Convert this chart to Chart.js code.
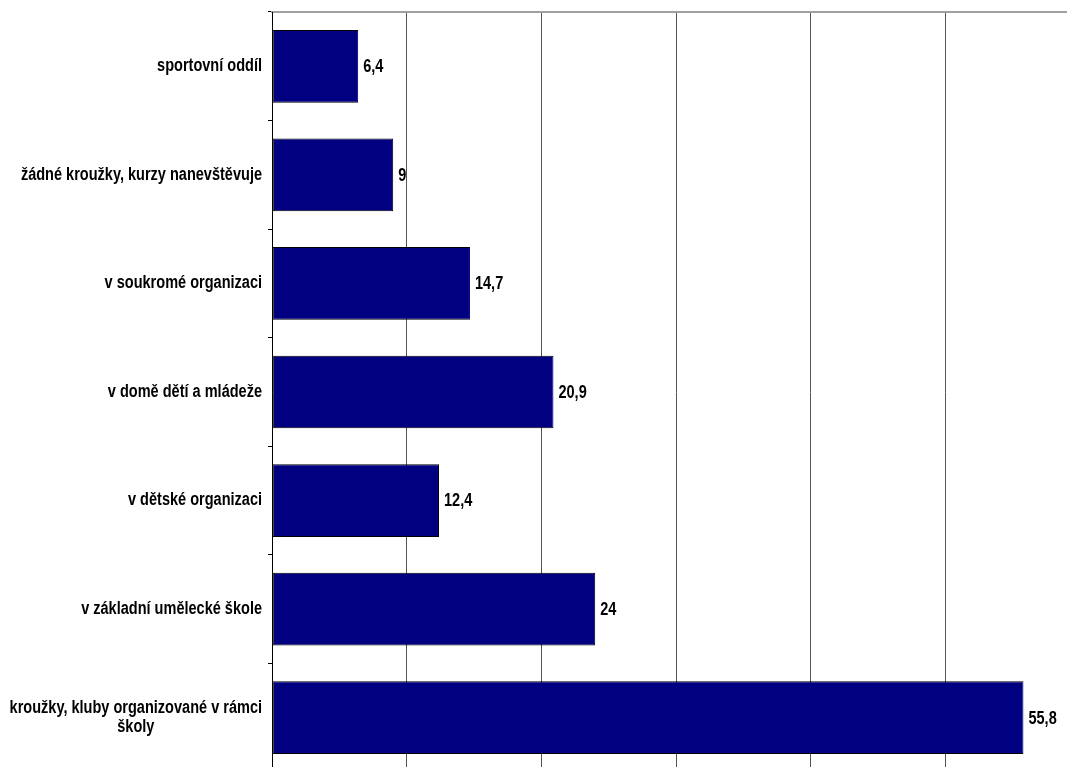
<!DOCTYPE html>
<html>
<head>
<meta charset="utf-8">
<script src="https://cdn.jsdelivr.net/npm/chart.js@4"></script>
<style>
  html, body { margin: 0; padding: 0; background: #fff; overflow: hidden; }
  #wrap { position: absolute; left: 0; top: 0; width: 1090px; height: 790px; }
</style>
</head>
<body>
<div id="wrap"><canvas id="chart"></canvas></div>
<script>
// categories, top to bottom
const categories = [
  "sportovní oddíl",
  "žádné kroužky, kurzy nanevštěvuje",
  "v soukromé organizaci",
  "v domě dětí a mládeže",
  "v dětské organizaci",
  "v základní umělecké škole",
  ["kroužky, kluby organizované v rámci", "školy"],
];
const values = [6.4, 9, 14.7, 20.9, 12.4, 24, 55.8];
const axisMin = 0;
const axisMax = 60;
const axisStep = 10;

// Arial Narrow look: Liberation Sans bold squeezed horizontally
const labelFont = 'bold 17.5px "Liberation Sans", Arial, sans-serif';
const squeeze = 0.83;

function narrowText(ctx, text, x, y) {
  ctx.save();
  ctx.translate(x, y);
  ctx.scale(squeeze, 1);
  ctx.fillText(text, 0, 0);
  ctx.restore();
}

// category labels: right aligned block, lines centred within it (like Excel)
const categoryLabels = {
  id: "categoryLabels",
  afterDraw(chart) {
    const { ctx, chartArea } = chart;
    const yScale = chart.scales.y;
    ctx.save();
    ctx.font = labelFont;
    ctx.fillStyle = "#000";
    ctx.textAlign = "center";
    ctx.textBaseline = "middle";
    const lineHeight = 19;
    const right = chartArea.left - 10;
    categories.forEach((label, i) => {
      const lines = Array.isArray(label) ? label : [label];
      const widest = Math.max(...lines.map((l) => ctx.measureText(l).width)) * squeeze;
      const cx = right - widest / 2;
      const y0 = yScale.getPixelForValue(i) - ((lines.length - 1) * lineHeight) / 2;
      lines.forEach((line, j) => narrowText(ctx, line, cx, y0 + j * lineHeight));
    });
    ctx.restore();
  },
};

// value labels at the end of each bar
const valueLabels = {
  id: "valueLabels",
  afterDatasetsDraw(chart) {
    const { ctx } = chart;
    const meta = chart.getDatasetMeta(0);
    ctx.save();
    ctx.font = labelFont;
    ctx.fillStyle = "#000";
    ctx.textAlign = "left";
    ctx.textBaseline = "middle";
    meta.data.forEach((bar, i) => {
      narrowText(ctx, String(values[i]).replace(".", ","), bar.x + 5, bar.y + 1);
    });
    ctx.restore();
  },
};

new Chart(document.getElementById("chart"), {
  type: "bar",
  data: {
    labels: categories,
    datasets: [
      {
        data: values,
        backgroundColor: "#000080",
        borderColor: "#000000",
        borderWidth: 1,
        borderSkipped: false,
        categoryPercentage: 1,
        barPercentage: 0.67,
      },
    ],
  },
  options: {
    indexAxis: "y",
    responsive: true,
    maintainAspectRatio: false,
    devicePixelRatio: 1,
    animation: false,
    layout: { padding: { top: 12, right: 10, bottom: 18, left: 0 } },
    plugins: {
      legend: { display: false },
      tooltip: { enabled: false },
    },
    scales: {
      x: {
        position: "top",
        min: axisMin,
        max: axisMax,
        ticks: { display: false, stepSize: axisStep },
        grid: { color: "#555", lineWidth: 1, drawTicks: false },
        border: { color: "#a0a0a0", width: 2 },
        afterFit: (scale) => { scale.height = 0; },
      },
      y: {
        ticks: { display: false },
        grid: { offset: true, drawOnChartArea: false, drawTicks: true, tickLength: 4, color: "#000" },
        border: { color: "#000", width: 1 },
        afterFit: (scale) => { scale.width = 272; },
      },
    },
  },
  plugins: [categoryLabels, valueLabels],
});
</script>
</body>
</html>
